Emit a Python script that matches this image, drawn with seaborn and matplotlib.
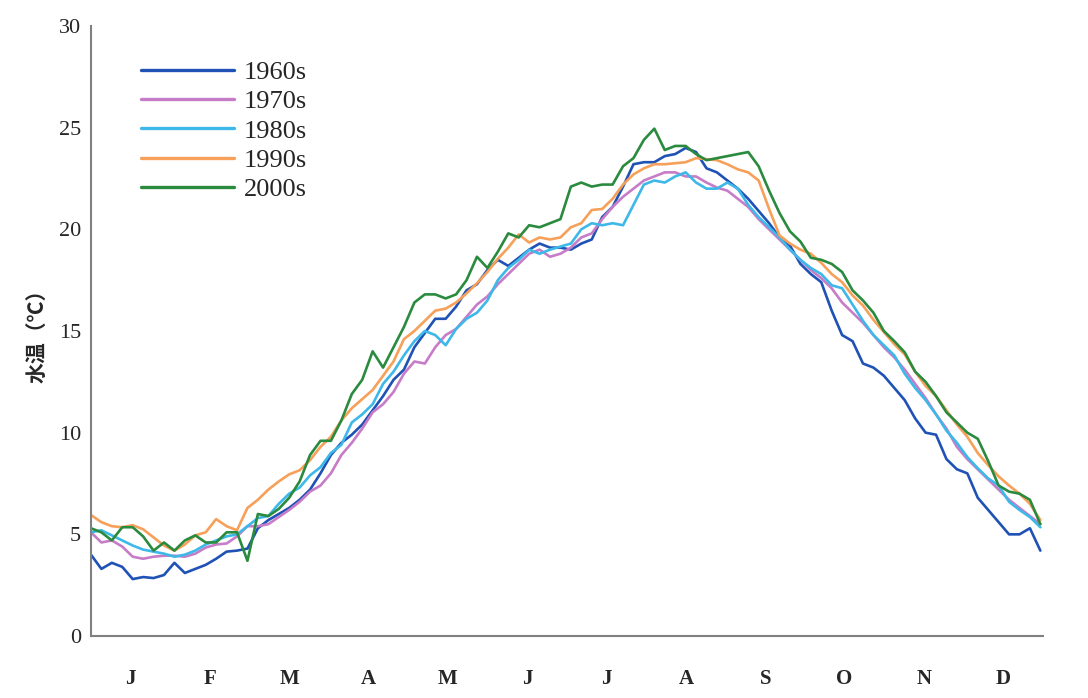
import matplotlib
matplotlib.use("Agg")
import matplotlib.pyplot as plt
import numpy as np
import pandas as pd
import seaborn as sns

sns.set_style("white")
plt.rcParams["font.family"] = ["Liberation Serif", "DejaVu Serif"]

# day of year, sampled every 4 days
day = list(range(0, 365, 4))

t1960s = [4.0, 3.3, 3.6, 3.4, 2.8, 2.9, 2.85, 3.0, 3.6, 3.1, 3.3, 3.5, 3.8, 4.15, 4.2, 4.3,
          5.3, 5.7, 6.0, 6.3, 6.7, 7.2, 8.0, 8.9, 9.5, 9.9, 10.4, 11.1, 11.8, 12.6, 13.1, 14.2,
          14.9, 15.6, 15.6, 16.2, 17.0, 17.3, 18.0, 18.5, 18.2, 18.6, 19.0, 19.3, 19.1, 19.1,
          19.0, 19.3, 19.5, 20.6, 21.1, 22.1, 23.2, 23.3, 23.3, 23.6, 23.7, 24.0, 23.8, 23.0,
          22.8, 22.4, 22.0, 21.5, 20.9, 20.3, 19.6, 19.2, 18.3, 17.8, 17.4, 16.0, 14.8, 14.5,
          13.4, 13.2, 12.8, 12.2, 11.6, 10.7, 10.0, 9.9, 8.7, 8.2, 8.0, 6.8, 6.2, 5.6, 5.0,
          5.0, 5.3, 4.2]
t1970s = [5.1, 4.6, 4.7, 4.4, 3.9, 3.8, 3.9, 3.95, 3.95, 3.9, 4.05, 4.35, 4.5, 4.55, 4.9, 5.4,
          5.4, 5.5, 5.85, 6.2, 6.6, 7.1, 7.4, 8.0, 8.9, 9.5, 10.2, 11.0, 11.4, 12.0, 12.9, 13.5,
          13.4, 14.2, 14.8, 15.1, 15.7, 16.3, 16.7, 17.3, 17.8, 18.3, 18.8, 19.0, 18.65, 18.8,
          19.1, 19.6, 19.8, 20.5, 21.1, 21.6, 22.0, 22.4, 22.6, 22.8, 22.8, 22.6, 22.6, 22.3,
          22.05, 21.9, 21.5, 21.1, 20.5, 20.0, 19.5, 19.0, 18.5, 18.0, 17.6, 17.1, 16.4, 15.9,
          15.4, 14.8, 14.2, 13.7, 13.1, 12.4, 11.7, 10.9, 10.2, 9.3, 8.7, 8.2, 7.7, 7.2, 6.7,
          6.3, 5.9, 5.5]
t1980s = [5.1, 5.2, 4.95, 4.7, 4.45, 4.25, 4.15, 4.05, 3.9, 4.0, 4.2, 4.5, 4.7, 4.9, 5.0, 5.4,
          5.8, 5.9, 6.5, 7.0, 7.3, 7.9, 8.3, 9.0, 9.4, 10.5, 10.9, 11.4, 12.4, 13.0, 13.8, 14.5,
          15.0, 14.8, 14.3, 15.1, 15.6, 15.9, 16.5, 17.5, 18.1, 18.5, 19.0, 18.8, 19.0, 19.15,
          19.3, 20.0, 20.3, 20.2, 20.3, 20.2, 21.2, 22.2, 22.4, 22.3, 22.6, 22.8, 22.3, 22.0,
          22.0, 22.3, 22.0, 21.2, 20.6, 20.1, 19.6, 19.0, 18.5, 18.1, 17.8, 17.25, 17.1, 16.3,
          15.5, 14.8, 14.3, 13.8, 12.9, 12.2, 11.6, 10.9, 10.1, 9.5, 8.8, 8.25, 7.75, 7.4, 6.6,
          6.2, 5.85, 5.35]
t1990s = [5.95, 5.6, 5.4, 5.35, 5.45, 5.25, 4.85, 4.45, 4.2, 4.5, 4.95, 5.1, 5.75, 5.4, 5.2, 6.3,
          6.7, 7.2, 7.6, 7.95, 8.15, 8.65, 9.3, 9.8, 10.6, 11.2, 11.65, 12.1, 12.8, 13.5, 14.6,
          15.0, 15.5, 16.0, 16.1, 16.4, 16.85, 17.35, 17.9, 18.55, 19.1, 19.75, 19.35, 19.6, 19.5,
          19.6, 20.1, 20.3, 20.95, 21.0, 21.5, 22.2, 22.7, 23.0, 23.2, 23.2, 23.25, 23.3, 23.5,
          23.45, 23.4, 23.2, 22.95, 22.8, 22.4, 21.0, 19.7, 19.3, 19.0, 18.8, 18.35, 17.8, 17.4,
          16.75, 16.25, 15.55, 14.95, 14.35, 13.85, 13.0, 12.3, 11.8, 11.1, 10.4, 9.8, 9.0, 8.4,
          7.85, 7.4, 7.0, 6.5, 5.7]
t2000s = [5.3, 5.1, 4.7, 5.35, 5.35, 4.9, 4.2, 4.6, 4.2, 4.7, 4.95, 4.6, 4.6, 5.1, 5.1, 3.7,
          6.0, 5.9, 6.25, 6.8, 7.6, 8.9, 9.6, 9.6, 10.6, 11.9, 12.6, 14.0, 13.2, 14.2, 15.2, 16.4,
          16.8, 16.8, 16.6, 16.8, 17.5, 18.65, 18.1, 18.9, 19.8, 19.6, 20.2, 20.1, 20.3, 20.5,
          22.1, 22.3, 22.1, 22.2, 22.2, 23.1, 23.5, 24.4, 24.95, 23.9, 24.1, 24.1, 23.7, 23.4,
          23.5, 23.6, 23.7, 23.8, 23.1, 21.9, 20.8, 19.9, 19.4, 18.6, 18.5, 18.3, 17.9, 17.0,
          16.5, 15.9, 15.0, 14.5, 13.95, 13.0, 12.5, 11.8, 11.0, 10.5, 10.0, 9.7, 8.6, 7.4, 7.1,
          7.0, 6.7, 5.5]

decades = ["1960s", "1970s", "1980s", "1990s", "2000s"]
colors = ["#1f52b4", "#c77cc8", "#3db8e8", "#f6a05a", "#2a8a3e"]
months = ["J", "F", "M", "A", "M", "J", "J", "A", "S", "O", "N", "D"]

df = pd.DataFrame({"day": day, "1960s": t1960s, "1970s": t1970s, "1980s": t1980s,
                   "1990s": t1990s, "2000s": t2000s})
long = df.melt(id_vars="day", var_name="decade", value_name="temp")

fig = plt.figure(figsize=(10.88, 6.98), dpi=100)
ax = fig.add_axes([0.0836, 0.0888, 0.875, 0.874])

sns.lineplot(data=long, x="day", y="temp", hue="decade", hue_order=decades,
             palette=colors, linewidth=1.9, ax=ax)

ax.set_xlim(0, 365)
ax.set_ylim(0, 30)
ax.set_yticks(range(0, 31, 5))

edges = [i * 365 / 12 for i in range(13)]
mids = [(i + 0.5) * 365 / 12 for i in range(12)]
ax.set_xticks(edges)
ax.set_xticklabels([])
ax.set_xticks(mids, months, minor=True)
ax.tick_params(axis="x", which="major", direction="out", length=5, width=1.2, color="#808080")
ax.tick_params(axis="x", which="minor", length=0, pad=24, labelsize=15)
for lab in ax.get_xticklabels(minor=True):
    lab.set_fontweight("bold")
ax.tick_params(axis="y", direction="in", length=7, width=1.2, color="#808080",
               labelsize=16, pad=7)

for side in ["top", "right"]:
    ax.spines[side].set_visible(False)
for side in ["left", "bottom"]:
    ax.spines[side].set_color("#808080")
    ax.spines[side].set_linewidth(1.5)

ax.set_xlabel("")
ax.set_ylabel("水温（℃）", family=["Noto Sans CJK SC", "DejaVu Sans"],
              fontsize=15, fontweight="bold", labelpad=8)

leg = ax.legend(loc="upper left", bbox_to_anchor=(0.028, 0.982), frameon=False,
                fontsize=19, handlelength=3.5, handletextpad=0.38, labelspacing=0.22)
for line in leg.get_lines():
    line.set_linewidth(2.4)

fig.savefig("out.png", dpi=100)
